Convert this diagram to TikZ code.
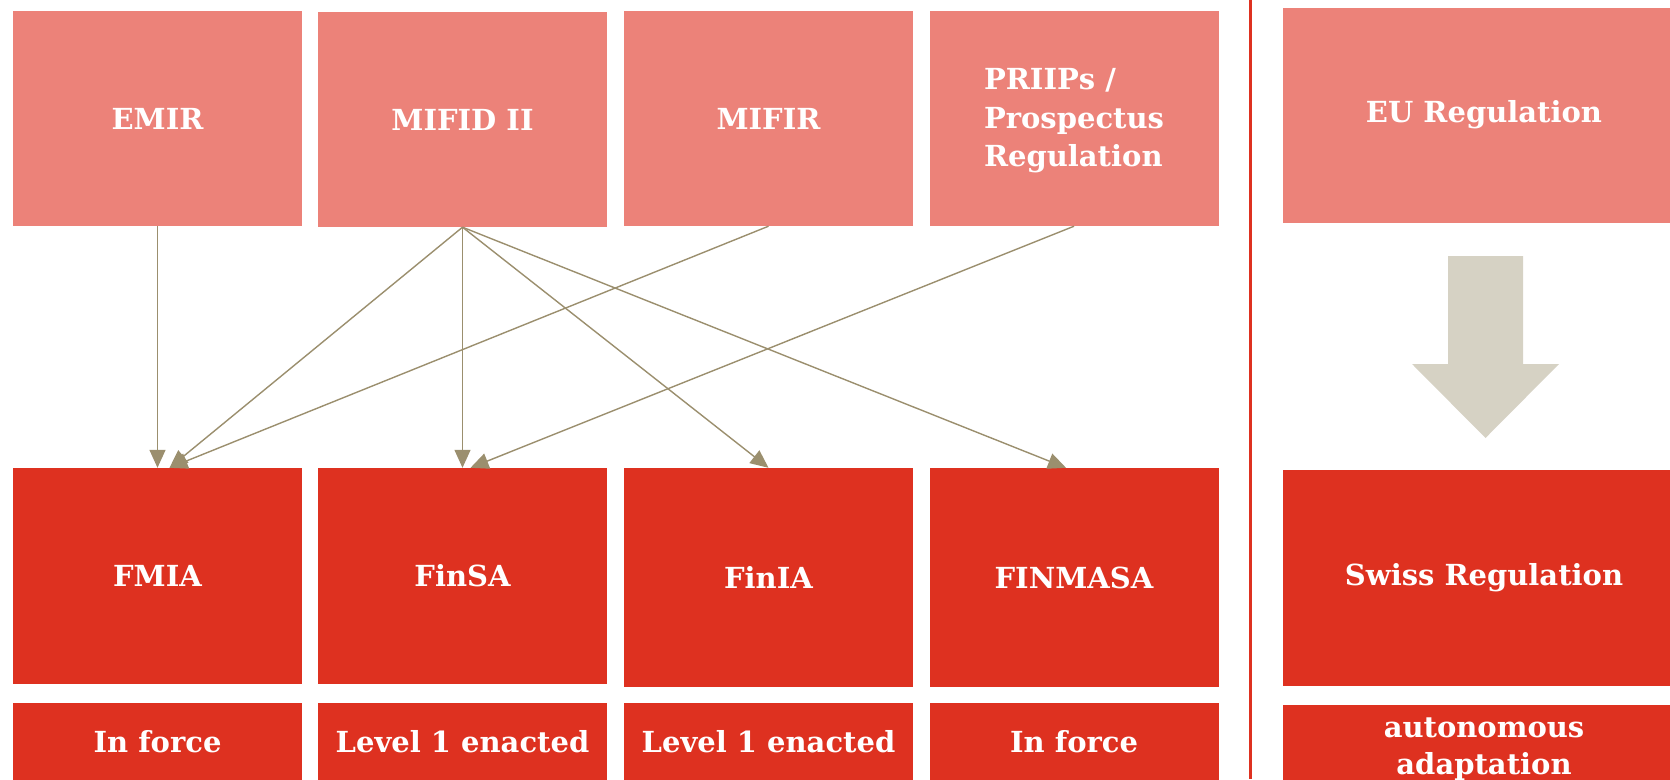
\documentclass[tikz,border=0pt]{standalone}
\usepackage{fontspec}
\setmainfont{DejaVu Serif}
\usetikzlibrary{arrows.meta,positioning}
\definecolor{eupink}{RGB}{236,130,121}
\definecolor{chred}{RGB}{222,49,32}
\definecolor{linkgrey}{RGB}{155,143,110}
\definecolor{arrowgrey}{RGB}{214,210,196}

\begin{document}
\begin{tikzpicture}[
  x=1pt, y=-1pt,
  box/.style={rectangle, inner sep=0pt, minimum width=289pt, minimum height=215pt, align=center, text=white, font=\bfseries\fontsize{29}{38.5}\selectfont},
  eubox/.style={box, fill=eupink},
  chbox/.style={box, fill=chred},
  stat/.style={box, fill=chred, minimum height=78pt},
  arr/.style={-{Triangle[length=18pt,width=16pt]}, draw=linkgrey, fill=linkgrey, line width=1.4pt}
]
\useasboundingbox (0,0) rectangle (1670,779);
% EU side
\node[eubox] (emir) at (157.5,118.5) {EMIR};
\node[eubox] (mifid) at (462.5,119.5) {MIFID II};
\node[eubox] (mifir) at (768.5,118.5) {MIFIR};
\node[eubox, align=left, text depth=2pt] (priips) at (1074,118.5) {\rule{0pt}{4pt}PRIIPs /\\Prospectus\\Regulation};
% Swiss side
\node[chbox, minimum height=216pt] (fmia) at (157.5,576) {FMIA};
\node[chbox, minimum height=216pt] (finsa) at (462.5,576) {FinSA};
\node[chbox, minimum height=219pt] (finia) at (768.5,577.5) {FinIA};
\node[chbox, minimum height=219pt] (finmasa) at (1074,577.5) {FINMASA};
\node[stat] (s1) at (157.5,742) {In force};
\node[stat] (s2) at (462.5,742) {Level 1 enacted};
\node[stat] (s3) at (768.5,742) {Level 1 enacted};
\node[stat] (s4) at (1074,742) {In force};
\draw[arr] (emir.south) -- (fmia.north);
\draw[arr] (mifid.south) -- ([xshift=12pt]fmia.north);
\draw[arr] (mifid.south) -- (finsa.north);
\draw[arr] (mifid.south) -- (finia.north);
\draw[arr] (mifid.south) -- ([xshift=-8pt]finmasa.north);
\draw[arr] (mifir.south) -- ([xshift=12pt]fmia.north);
\draw[arr] (priips.south) -- ([xshift=8pt]finsa.north);
% divider and legend
\draw[chred, line width=3pt] (1250,0) -- (1250,779);
\node[eubox, minimum width=402pt] (eu) at (1484,115) {EU Regulation};
\node[chbox, minimum width=402pt, minimum height=216pt] (ch) at (1484,578) {Swiss Regulation};
\node[stat, minimum width=402pt, minimum height=88pt, font=\bfseries\fontsize{29}{36.5}\selectfont] (auto) at (1484,749) {autonomous\\adaptation};
\fill[arrowgrey] (1448,256) -- (1523,256) -- (1523,364) -- (1559,364) -- (1485.5,438) -- (1412,364) -- (1448,364) -- cycle;
\end{tikzpicture}
\end{document}
